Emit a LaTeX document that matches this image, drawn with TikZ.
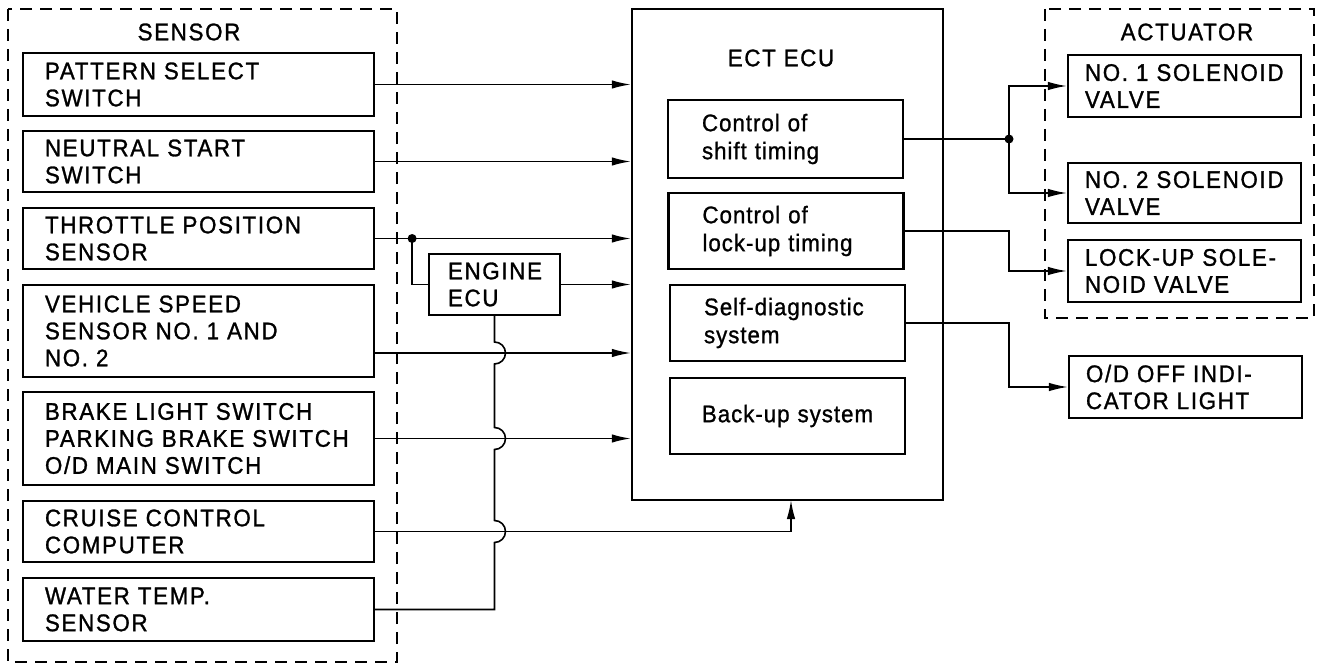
\documentclass[tikz,border=0pt]{standalone}
\usepackage{fontspec}
\setmainfont{Liberation Sans}
\newfontfamily\capsf[LetterSpace=7,FakeStretch=0.93,FakeBold=1.2]{Liberation Sans}
\newfontfamily\lowf[LetterSpace=4,FakeStretch=0.93,FakeBold=1.0]{Liberation Sans}
\usetikzlibrary{arrows.meta,calc}
\begin{document}
\begin{tikzpicture}[x=1pt,y=-1pt,
  capsfont/.style={font=\capsf\fontsize{24}{27}\selectfont},
  lowfont/.style={font=\lowf\fontsize{24}{28}\selectfont},
  boxbase/.style={draw,line width=2.2pt,inner ysep=0pt,align=left},
  sensorbox/.style={boxbase,capsfont,minimum height=#1,text width=307pt,inner xsep=22pt},
  innerbox/.style={boxbase,lowfont,minimum height=#1,text width=167pt,inner xsep=34pt},
  actbox/.style={boxbase,capsfont,minimum height=#1,text width=199pt,inner xsep=17pt},
  title/.style={capsfont,inner sep=0pt},
  dashbox/.style={line width=2.2pt,dash pattern=on 12pt off 8pt},
  conn/.style={line width=1.6pt},
  arr/.style={conn,-{Latex[length=19pt,width=8.5pt]}},
  dot/.style={fill=black}]
\useasboundingbox (0,0) rectangle (1323,666);

% sensor group
\draw[dashbox] (8,9) rectangle (397,662);
\node[title] (sensortitle) at (189,32) {SENSOR};
\node[sensorbox=63pt] (s1) at (198.5,84.5) {PATTERN~SELECT\\SWITCH};
\node[sensorbox=61pt] (s2) at (198.5,161.5) {NEUTRAL~START\\SWITCH};
\node[sensorbox=61pt] (s3) at (198.5,238.5) {THROTTLE~POSITION\\SENSOR};
\node[sensorbox=92pt] (s4) at (198.5,331) {VEHICLE~SPEED\\SENSOR~NO.~1~AND\\NO.~2};
\node[sensorbox=93pt] (s5) at (198.5,438.5) {BRAKE~LIGHT~SWITCH\\PARKING~BRAKE~SWITCH\\O/D~MAIN~SWITCH};
\node[sensorbox=61pt] (s6) at (198.5,531.5) {CRUISE~CONTROL\\COMPUTER};
\node[sensorbox=63pt] (s7) at (198.5,609.5) {WATER~TEMP.\\SENSOR};

% engine ECU
\node[boxbase,capsfont,minimum height=61pt,text width=93pt,inner xsep=19pt] (eng) at (494.5,284.5) {ENGINE\\ECU};

% ECT ECU
\node[draw,line width=2.4pt,minimum width=311pt,minimum height=491pt,inner sep=0pt] (ect) at (787.5,254.5) {};
\node[title] (ecttitle) at (781,58) {ECT~ECU};
\node[innerbox=78pt] (shift) at (785.5,139) {Control~of\\shift~timing};
\node[innerbox=76pt] (lock) at (786,231) {Control~of\\lock-up~timing};
\node[innerbox=76pt] (diag) at (787.5,323) {Self-diagnostic\\system};
\node[boxbase,lowfont,minimum height=76pt,text width=215pt,inner xsep=10pt,align=center] (backup) at (787.5,416) {Back-up~system};

% actuator group
\draw[dashbox] (1045,9) rectangle (1314,318);
\node[title] (acttitle) at (1187,32) {ACTUATOR};
\node[actbox=62pt] (a1) at (1184.5,86) {NO.~1~SOLENOID\\VALVE};
\node[actbox=60pt] (a2) at (1184.5,193) {NO.~2~SOLENOID\\VALVE};
\node[actbox=62pt] (a3) at (1184.5,271) {LOCK-UP~SOLE-\\NOID~VALVE};
\node[actbox=62pt] (od) at (1185.5,387) {O/D~OFF~INDI-\\CATOR~LIGHT};

% helper coordinates
\coordinate (j1) at ($(s3.east)+(37,0)$);
\coordinate (bx) at (1009,0);
\coordinate (j2) at (shift.east -| bx);
\coordinate (s4o) at ($(s4.east)+(0,22)$);
\coordinate (cruisein) at (791,500);

% sensor connectors
\draw[arr] (s1.east) -- (s1.east -| ect.west);
\draw[arr] (s2.east) -- (s2.east -| ect.west);
\draw[arr] (s3.east) -- (s3.east -| ect.west);
\fill[dot] (j1) circle (4.5pt);
\draw[conn] (j1) |- (eng.west);
\draw[arr] (eng.east) -- (eng.east -| ect.west);
\draw[arr] (s4o) -- (s4o -| ect.west);
\draw[arr] (s5.east) -- (s5.east -| ect.west);
\draw[arr] (s6.east) -| (cruisein);
\draw[conn] (s7.east) -- (s7.east -| eng.south)
  -- ($(s6.east -| eng.south)+(0,11)$) arc[start angle=-90,end angle=90,radius=11pt]
  -- ($(s5.east -| eng.south)+(0,11)$) arc[start angle=-90,end angle=90,radius=11pt]
  -- ($(s4o -| eng.south)+(0,11)$) arc[start angle=-90,end angle=90,radius=11pt]
  -- (eng.south);

% outputs
\draw[conn] (shift.east) -- (j2);
\fill[dot] (j2) circle (4.5pt);
\draw[arr] (j2) |- (a1.west);
\draw[arr] (j2) |- (a2.west);
\draw[arr] (lock.east) -- (lock.east -| bx) |- (a3.west);
\draw[arr] (diag.east) -- (diag.east -| bx) |- (od.west);
\end{tikzpicture}
\end{document}
